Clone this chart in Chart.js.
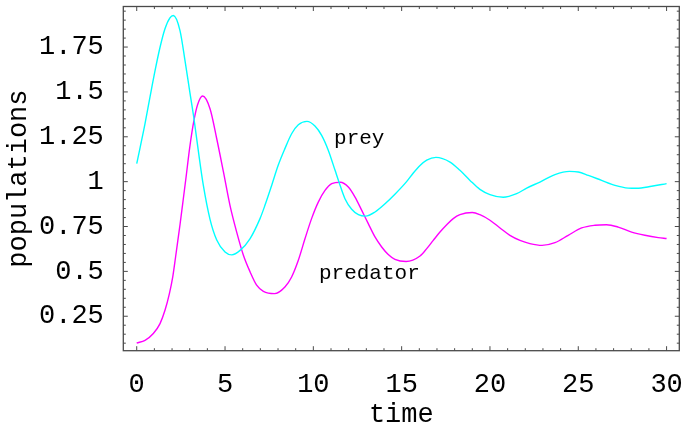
<!DOCTYPE html>
<html>
<head>
<meta charset="utf-8">
<script src="https://cdn.jsdelivr.net/npm/chart.js@4"></script>
<style>
  html, body { margin: 0; background: #fff; }
  #wrap { width: 683px; height: 426px; }
</style>
</head>
<body>
<div id="wrap"><canvas id="chart" width="683" height="426"></canvas></div>
<script>
// Predator-prey solution, sampled at the turning points and along the slopes
const preyTime = [0, 0.47, 0.75, 1.04, 1.32, 1.6, 1.88, 2.07, 2.45, 2.74,
  3.02, 3.25, 3.49, 3.77, 4.15, 4.53, 5, 5.38, 5.85, 6.42,
  6.98, 7.26, 7.64, 8.01, 8.39, 8.77, 9.15, 9.64, 10.09, 10.47,
  10.85, 11.23, 11.45, 11.79, 12.17, 12.55, 12.95, 13.49, 14.06, 14.62,
  15.28, 15.66, 16.04, 16.42, 16.94, 17.74, 18.3, 18.87, 19.43, 20,
  20.75, 21.51, 22.08, 22.83, 23.68, 24.5, 25, 25.57, 26.32, 27.08,
  27.83, 28.3, 29.15, 30];
const preyValues = [1.100, 1.323, 1.471, 1.620, 1.749, 1.852, 1.913, 1.926, 1.842, 1.670,
  1.490, 1.345, 1.170, 0.980, 0.790, 0.675, 0.608, 0.592, 0.617, 0.683,
  0.794, 0.868, 0.979, 1.091, 1.184, 1.267, 1.317, 1.336, 1.310, 1.258,
  1.174, 1.063, 0.998, 0.905, 0.846, 0.816, 0.808, 0.831, 0.877, 0.930,
  1.000, 1.048, 1.090, 1.120, 1.135, 1.109, 1.063, 1.007, 0.957, 0.928,
  0.913, 0.933, 0.964, 0.998, 1.039, 1.057, 1.054, 1.035, 1.007, 0.979,
  0.964, 0.963, 0.974, 0.989];

const predatorTime = [0, 0.47, 0.94, 1.32, 1.6, 1.85, 2.04, 2.2, 2.36, 2.45,
  2.6, 2.8, 3, 3.24, 3.45, 3.73, 4.15, 4.53, 4.91, 5.28,
  5.66, 6.04, 6.42, 6.79, 7.17, 7.8, 8.39, 8.77, 9.15, 9.53,
  9.9, 10.28, 10.66, 11.04, 11.53, 11.98, 12.36, 12.74, 13.11, 13.49,
  13.87, 14.24, 14.62, 15.25, 16.04, 16.42, 16.79, 17.17, 17.55, 17.92,
  18.3, 19, 19.43, 20, 20.57, 21.13, 21.7, 22.26, 22.95, 23.68,
  24.43, 25.19, 25.94, 26.6, 27.26, 28.02, 28.77, 29.53, 30];
const predatorValues = [0.101, 0.116, 0.154, 0.209, 0.283, 0.376, 0.469, 0.580, 0.695, 0.760,
  0.875, 1.030, 1.190, 1.341, 1.430, 1.477, 1.406, 1.239, 1.054, 0.868,
  0.719, 0.590, 0.497, 0.423, 0.389, 0.376, 0.413, 0.469, 0.562, 0.683,
  0.794, 0.886, 0.951, 0.989, 0.997, 0.970, 0.914, 0.840, 0.766, 0.692,
  0.636, 0.594, 0.567, 0.555, 0.586, 0.627, 0.673, 0.719, 0.760, 0.794,
  0.816, 0.828, 0.816, 0.785, 0.742, 0.701, 0.673, 0.655, 0.645, 0.660,
  0.701, 0.742, 0.757, 0.760, 0.747, 0.719, 0.701, 0.688, 0.683];

const xTicks = [0, 5, 10, 15, 20, 25, 30];
const yTicks = [0.25, 0.5, 0.75, 1, 1.25, 1.5, 1.75];

// curve labels, placed in data coordinates (centre x, baseline y)
const curveLabels = [
  { text: 'prey', t: 12.6, v: 1.212 },
  { text: 'predator', t: 13.17, v: 0.458 }
];

const MONO = '"Liberation Mono", "Courier New", monospace';
const FRAME = '#4a4a4a';

const toPoints = (ts, vs) => vs.map((v, i) => ({ x: ts[i], y: v }));

// frame with inward tick marks on all four sides, plus the curve labels
const framePlugin = {
  id: 'frame',
  afterDraw(chart) {
    const { ctx, chartArea: a, scales: { x, y } } = chart;
    ctx.save();
    ctx.strokeStyle = FRAME;
    ctx.lineWidth = 1.3;
    ctx.strokeRect(a.left, a.top, a.right - a.left, a.bottom - a.top);
    ctx.lineWidth = 1;
    ctx.beginPath();
    for (let t = 0; t <= 30; t++) {
      const px = x.getPixelForValue(t);
      const len = t % 5 === 0 ? 4.5 : 2.5;
      ctx.moveTo(px, a.bottom); ctx.lineTo(px, a.bottom - len);
      ctx.moveTo(px, a.top); ctx.lineTo(px, a.top + len);
    }
    for (let k = 2; k <= 39; k++) {
      const py = y.getPixelForValue(k * 0.05);
      const len = k % 5 === 0 ? 4.5 : 2.5;
      ctx.moveTo(a.left, py); ctx.lineTo(a.left + len, py);
      ctx.moveTo(a.right, py); ctx.lineTo(a.right - len, py);
    }
    ctx.stroke();

    ctx.fillStyle = '#000';
    ctx.font = '21px ' + MONO;
    ctx.textAlign = 'center';
    ctx.textBaseline = 'alphabetic';
    curveLabels.forEach(l => {
      ctx.fillText(l.text, x.getPixelForValue(l.t), y.getPixelForValue(l.v));
    });
    ctx.restore();
  }
};

new Chart(document.getElementById('chart'), {
  type: 'line',
  data: {
    datasets: [
      { label: 'prey', data: toPoints(preyTime, preyValues), borderColor: '#00ffff' },
      { label: 'predator', data: toPoints(predatorTime, predatorValues), borderColor: '#ff00ff' }
    ]
  },
  options: {
    responsive: false,
    animation: false,
    layout: { padding: { left: 0, top: 6.5, right: 3.7, bottom: 0 } },
    elements: {
      point: { radius: 0 },
      line: { borderWidth: 1.4, cubicInterpolationMode: 'monotone', fill: false }
    },
    plugins: { legend: { display: false }, tooltip: { enabled: false } },
    scales: {
      x: {
        type: 'linear',
        min: -0.76,
        max: 30.72,
        afterBuildTicks: s => { s.ticks = xTicks.map(v => ({ value: v })); },
        afterFit: s => { s.height = 75.3; s.paddingLeft = 0; s.paddingRight = 0; },
        grid: { display: false },
        border: { display: false },
        ticks: {
          autoSkip: false, maxRotation: 0, padding: 10.4, color: '#000',
          font: { family: MONO, size: 27 },
          callback: v => String(v)
        },
        title: {
          display: true, text: 'time', color: '#000', padding: 0,
          font: { family: MONO, size: 27, lineHeight: 0.83 }
        }
      },
      y: {
        type: 'linear',
        min: 0.058,
        max: 1.976,
        afterBuildTicks: s => { s.ticks = yTicks.map(v => ({ value: v })); },
        afterFit: s => { s.width = 123.3; s.paddingTop = 0; s.paddingBottom = 0; },
        grid: { display: false },
        border: { display: false },
        ticks: {
          autoSkip: false, padding: 11.5, color: '#000',
          font: { family: MONO, size: 27 },
          callback: v => String(v)
        },
        title: {
          display: true, text: 'populations', color: '#000',
          padding: { top: 7.6, bottom: 0 },
          font: { family: MONO, size: 27, lineHeight: 0.83 }
        }
      }
    }
  },
  plugins: [framePlugin]
});
</script>
</body>
</html>
